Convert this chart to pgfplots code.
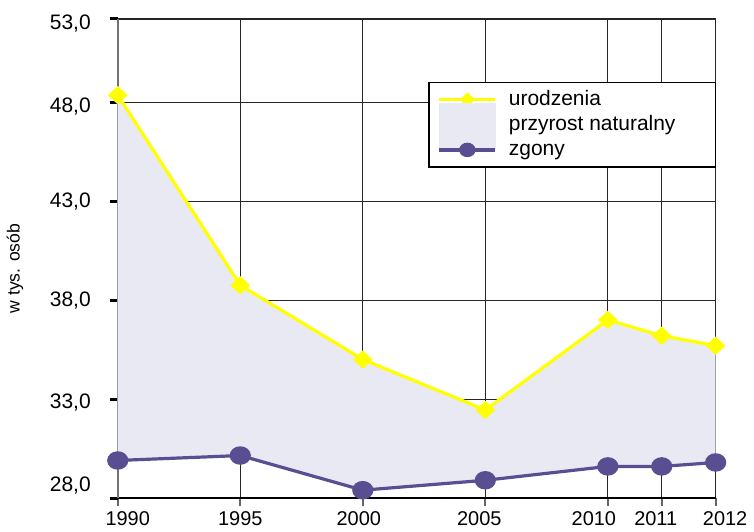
\documentclass[border=0pt]{standalone}
\usepackage{fontspec}
\setmainfont{Liberation Sans}
\usepackage{pgfplots}
\pgfplotsset{compat=1.18}
\definecolor{urod}{HTML}{FFFF00}
\definecolor{zgon}{HTML}{5A4E92}
\definecolor{przy}{HTML}{E8E9F3}
\pgfplotsset{
  layers/mylayers/.define layer set={axis background,axis grid,main,axis ticks,axis lines,axis tick labels,axis descriptions,axis foreground}{},
}
\newcommand{\lift}[2]{\raisebox{#1}[\height][\depth]{#2}}
\begin{document}
\begin{tikzpicture}
\begin{axis}[
  set layers=mylayers,
  scale only axis,
  width=299.5pt, height=240pt,
  xmin=0, xmax=4.88,
  ymin=28, ymax=52.2,
  clip=false,
  xtick={0,1,2,3,4,4.44,4.88},
  xticklabels={\hspace*{10pt}1990,1995,2000\hspace*{4pt},2005\hspace*{6pt},2010\hspace*{14pt},2011\hspace*{6pt},\hspace*{9.5pt}2012},
  ytick={28,33,38,43,48,52.2},
  yticklabels={{\lift{6.5pt}{28,0}},{\lift{-1.5pt}{33,0}},{38,0},{43,0},{\lift{-2pt}{48,0}},{\lift{-2.5pt}{53,0}}},
  grid=major,
  major grid style={black!85, line width=0.6pt},
  axis x line*=bottom,
  axis y line*=left,
  x axis line style={black, line width=0.6pt, -},
  y axis line style={black!55, line width=1.2pt, -},
  xtick style={draw=black!60, line width=1pt},
  ytick style={draw=black, line width=1.5pt},
  xtick align=outside, ytick align=outside,
  major tick length=4pt,
  xticklabel style={font=\fontsize{10}{12}\selectfont, text=black, yshift=1pt},
  yticklabel style={font=\fontsize{10.5}{12}\selectfont, text=black, xshift=-6pt},
  ylabel={w tys. osób},
  ylabel style={font=\fontsize{8.8}{10}\selectfont, yshift=6.5pt, xshift=-5pt},
  legend image code/.code={\draw[#1, mark repeat=2, mark phase=2] plot coordinates {(0pt,0pt) (14pt,0pt) (28pt,0pt)};},
  legend style={at={(rel axis cs:0.519,0.869)}, anchor=north west,
    font=\fontsize{10.5}{12}\selectfont, draw=black, line width=0.8pt,
    row sep=-0.5pt, inner xsep=4.5pt, inner ysep=2pt,
    cells={anchor=west, inner ysep=1pt, text height=7.6pt, text depth=2.2pt},
    /tikz/every even column/.append style={column sep=12pt}},
  legend cell align=left,
  extra description/.code={\path (rel axis cs:0,1) ++(0,9.5pt); \path (rel axis cs:0,0) ++(0,-15pt);},
]
\addplot[fill=przy, draw=none, forget plot] coordinates {
  (0,48.35) (1,38.75) (2,35.0) (3,32.45) (4,37.0) (4.44,36.2) (4.88,35.7)
  (4.88,29.8) (4.44,29.6) (4,29.6) (3,28.9) (2,28.4) (1,30.15) (0,29.9)
} -- cycle;
\addplot[urod, line width=1.6pt, mark=diamond*, mark size=5pt,
  mark options={yscale=0.7, fill=urod, draw=urod},
  legend image post style={mark size=3.5pt}] coordinates {
  (0,48.35) (1,38.75) (2,35.0) (3,32.45) (4,37.0) (4.44,36.2) (4.88,35.7)};
\addlegendentry{\hspace*{4pt}urodzenia}
\addlegendimage{legend image code/.code={\fill[przy, overlay] (0pt,-11.5pt) rectangle (28pt,10.5pt); \path (0pt,0pt) (28pt,0pt);}}
\addlegendentry{\hspace*{4pt}przyrost naturalny\hspace*{13.5pt}}
\addplot[zgon, line width=1.6pt, mark=*, mark size=4.5pt,
  mark options={yscale=0.85, fill=zgon, draw=zgon},
  legend image post style={mark size=3.3pt}] coordinates {
  (0,29.9) (1,30.15) (2,28.4) (3,28.9) (4,29.6) (4.44,29.6) (4.88,29.8)};
\addlegendentry{\hspace*{4pt}zgony}
\end{axis}
\end{tikzpicture}
\end{document}
